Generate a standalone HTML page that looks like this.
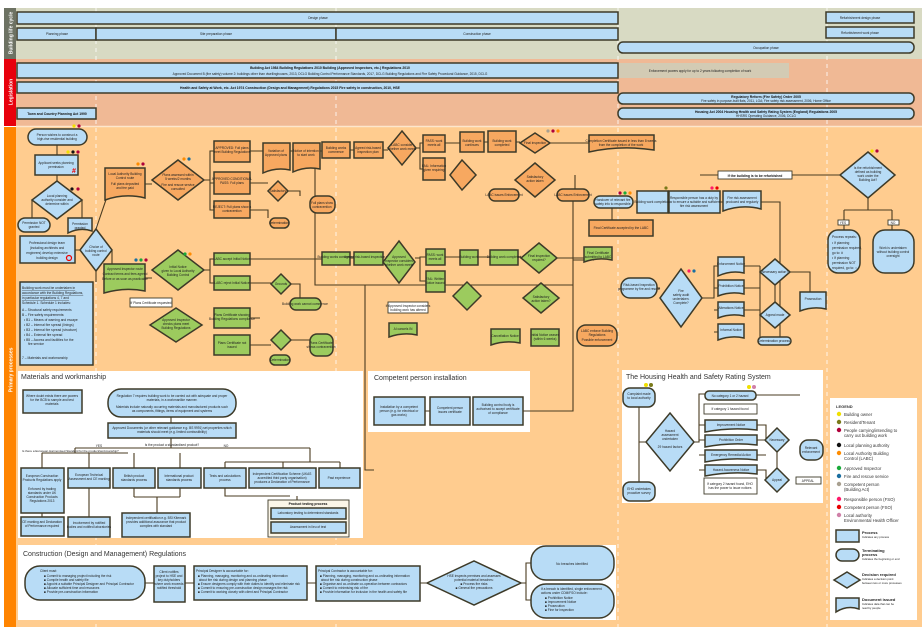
<!DOCTYPE html>
<html><head><meta charset="utf-8"><style>
html,body{margin:0;padding:0;background:#fff;}
svg{display:block;font-family:"Liberation Sans",sans-serif;}
.b{fill:#b8dcf6;stroke:#3d3a28;stroke-width:1.5}
.o{fill:#f7a860;stroke:#3d3a28;stroke-width:1.5}
.g{fill:#9ccb5e;stroke:#3d3a28;stroke-width:1.5}
.w{fill:#fff;stroke:#3d3a28;stroke-width:0.9}
.l{fill:none;stroke:#4a3b20;stroke-width:1.1}
.t{font-size:3.2px;fill:#222;text-anchor:middle}
.tb{font-size:3.4px;fill:#111;text-anchor:middle;font-weight:bold}
.h{font-size:7px;fill:#333}
.lg{font-size:4.3px;fill:#333}
</style></head><body>
<svg width="922" height="630" viewBox="0 0 922 630" xmlns="http://www.w3.org/2000/svg">
<rect x="4" y="8" width="12" height="51" fill="#6d7263"/>
<rect x="4" y="59" width="12" height="67" fill="#e8000c"/>
<rect x="4" y="127" width="12" height="500" fill="#ff8400"/>
<text transform="translate(12.5,33) rotate(-90)" font-size="5" fill="#fff" text-anchor="middle" font-weight="bold">Building life cycle</text>
<text transform="translate(12.5,92) rotate(-90)" font-size="5" fill="#fff" text-anchor="middle" font-weight="bold">Legislation</text>
<text transform="translate(12.5,370) rotate(-90)" font-size="5" fill="#fff" text-anchor="middle" font-weight="bold">Primary processes</text>
<rect x="16" y="8" width="906" height="51" fill="#d8dac3"/>
<rect x="16" y="59" width="906" height="67" fill="#f0b995"/>
<rect x="16" y="127" width="906" height="500" fill="#ffcc8f"/>
<line x1="16" y1="126.5" x2="922" y2="126.5" stroke="#fde6cc" stroke-width="1.5"/>
<g stroke="#fff" stroke-width="0.8" stroke-dasharray="4,4">
<line x1="96" y1="8" x2="96" y2="627"/><line x1="336" y1="8" x2="336" y2="627"/><line x1="618" y1="8" x2="618" y2="627"/><line x1="827" y1="8" x2="827" y2="627"/></g>
<rect class="b" x="17" y="12" width="601" height="12"/><text class="t" x="318" y="19">Design phase</text>
<rect class="b" x="17" y="28" width="79" height="12"/><text class="t" x="57" y="35">Planning phase</text>
<rect class="b" x="96" y="28" width="240" height="12"/><text class="t" x="216" y="35">Site preparation phase</text>
<rect class="b" x="336" y="28" width="282" height="12"/><text class="t" x="477" y="35">Construction phase</text>
<rect class="b" x="826" y="12" width="88" height="11"/><text class="t" x="860" y="19">Refurbishment design phase</text>
<rect class="b" x="826" y="27" width="88" height="11"/><text class="t" x="860" y="34">Refurbishment work phase</text>
<rect class="b" x="618" y="42" width="296" height="11" rx="5"/><text class="t" x="766" y="49">Occupation phase</text>
<rect class="b" x="17" y="63" width="601" height="15"/>
<text class="tb" x="330" y="69">Building Act 1984      Building Regulations 2010      Building (Approved Inspectors, etc.) Regulations 2010</text>
<text class="t" x="330" y="75">Approved Document B (fire safety) volume 2: buildings other than dwellinghouses, 2013, DCLG   Building Control Performance Standards, 2017, DCLG   Building Regulations and Fire Safety Procedural Guidance, 2015, DCLG</text>
<rect x="619" y="63" width="170" height="15" fill="#d3cbb4"/><text class="t" x="700" y="72">Enforcement powers apply for up to 2 years following completion of work</text>
<rect class="b" x="17" y="82" width="601" height="11"/>
<text class="tb" x="290" y="89">Health and Safety at Work, etc. Act 1974     Construction (Design and Management) Regulations 2015     Fire safety in construction, 2010, HSE</text>
<rect class="b" x="618" y="93" width="296" height="11" rx="5"/><text class="tb" x="766" y="98">Regulatory Reform (Fire Safety) Order 2005</text><text class="t" x="766" y="102">Fire safety in purpose-built flats, 2011, LGA; Fire safety risk assessment, 2006, Home Office</text>
<rect class="b" x="618" y="108" width="296" height="11" rx="5"/><text class="tb" x="766" y="113">Housing Act 2004    Housing Health and Safety Rating System (England) Regulations 2005</text><text class="t" x="766" y="117">HHSRS Operating Guidance, 2006, DCLG</text>
<rect class="b" x="17" y="108" width="79" height="11"/><text class="tb" x="57" y="115">Town and Country Planning Act 1990</text>

<g class="l">
<path d="M57 145V155M57 175V181M40 200H32V218M74 200H82V218M96 229V236M75 250H80M96 271V282M112 250H96M96 229L112 182H105M112 250V282H104"/>
<path d="M145 184H152M204 180H210V151H214M210 180V183H214M210 180V210H214M250 151H263M290 151H293M320 151H322M350 150H354M383 150H388M416 148H420V143H423M420 148V169H423M445 143H460M484 142H488M516 142H520M550 143H589M250 183H268M250 210H268V218M288 191H300V196"/>
<path d="M145 278H152M204 270H210V259H214M210 270V283H214M250 259H322M250 283H271M291 284H300V298M350 258H354M415 258H420V257H426M420 258V281H426M445 257H460M478 257H490M518 257H521M557 258H584M250 318H260M250 345H271M291 340H310"/>
<path d="M315 158V285H573M573 200V372M573 260H594M365 285V470H374M612 200V220"/>
<path d="M668 202H669M720 202H723M761 202H780V340M700 175H840M575 175V191M868 198V210M844 210H892M844 210V230M892 210V230"/>
<path d="M657 288H660M702 298H714V266H718M714 288H718M714 310H718M714 332H718M744 266H760M744 288H760M744 310H760M760 266V340M790 272H810V292M775 285V302"/>
</g>
<rect class="b" x="28" y="129" width="59" height="16" rx="8"/><text class="t" x="57" y="136">Person wishes to construct a</text><text class="t" x="57" y="140">high-rise residential building</text>
<rect class="b" x="35" y="155" width="43" height="20"/><text class="t" x="56" y="164">Applicant seeks planning</text><text class="t" x="56" y="168">permission</text><text x="72" y="173" font-size="7" fill="#e00" font-weight="bold">#</text>
<polygon class="b" points="57,181 82,200 57,219 32,200"/><text class="t" x="57" y="197">Local planning</text><text class="t" x="57" y="201">authority consider and</text><text class="t" x="57" y="205">determine within</text>
<rect class="b" x="18" y="218" width="32" height="14" rx="7"/><text class="t" x="34" y="224">Permission NOT</text><text class="t" x="34" y="228">granted</text>
<path class="b" d="M68 218H92V231Q80 227 68 233Z"/><text class="t" x="80" y="225">Permission</text><text class="t" x="80" y="229">granted</text>
<rect class="b" x="20" y="236" width="55" height="27"/><text class="t" x="47" y="244">Professional design team</text><text class="t" x="47" y="249">(including architects and</text><text class="t" x="47" y="254">engineers) develop extensive</text><text class="t" x="47" y="259">building design</text><circle cx="69" cy="258" r="2.5" fill="none" stroke="#e00" stroke-width="1.2"/>
<polygon class="b" points="96,229 112,250 96,271 80,250"/><text class="t" x="96" y="248">Choice of</text><text class="t" x="96" y="252">building control</text><text class="t" x="96" y="256">route</text>
<rect class="b" x="20" y="282" width="73" height="83"/>
<text font-size="3.3" fill="#222"><tspan x="22" y="289" text-decoration="underline">Building work must be undertaken in</tspan><tspan x="22" y="294" text-decoration="underline">accordance with the Building Regulations,</tspan><tspan x="22" y="299" text-decoration="underline">in particular regulations 4, 7 and</tspan><tspan x="22" y="304">Schedule 1. Schedule 1 includes:</tspan><tspan x="22" y="311">A – Structural safety requirements</tspan><tspan x="22" y="316">B – Fire safety requirements:</tspan><tspan x="24" y="321">• B1 – Means of warning and escape</tspan><tspan x="24" y="326">• B2 – Internal fire spread (linings)</tspan><tspan x="24" y="331">• B3 – Internal fire spread (structure)</tspan><tspan x="24" y="336">• B4 – External fire spread</tspan><tspan x="24" y="341">• B5 – Access and facilities for the</tspan><tspan x="28" y="345">fire service</tspan><tspan x="22" y="359">7 – Materials and workmanship</tspan></text>

<path class="o" d="M105 168H145V198Q125 193 105 200Z"/><text class="t" x="125" y="175">Local Authority Building</text><text class="t" x="125" y="179">Control route</text><text class="t" x="125" y="185">Full plans deposited</text><text class="t" x="125" y="189">and fee paid</text>
<polygon class="o" points="178,160 204,180 178,200 152,180"/><text class="t" x="178" y="176">Plans assessed within</text><text class="t" x="178" y="180">5 weeks/2 months</text><text class="t" x="178" y="186">Fire and rescue service</text><text class="t" x="178" y="190">consulted</text>
<rect class="o" x="214" y="141" width="36" height="21"/><text class="t" x="232" y="149">APPROVED: Full plans</text><text class="t" x="232" y="153">meet Building Regulations</text>
<rect class="o" x="214" y="172" width="36" height="22"/><text class="t" x="232" y="180">APPROVED CONDITIONAL</text><text class="t" x="232" y="184">PASS: Full plans</text>
<rect class="o" x="214" y="201" width="36" height="17"/><text class="t" x="232" y="208">REJECT: Full plans show a</text><text class="t" x="232" y="212">contravention</text>
<path class="o" d="M263 143H290V170Q276 167 263 173Z"/><text class="t" x="276" y="152">Variation of</text><text class="t" x="276" y="156">Approved plans</text>
<path class="o" d="M293 143H320V169Q306 166 293 172Z"/><text class="t" x="306" y="152">Notice of intention</text><text class="t" x="306" y="156">to start work</text>
<rect class="o" x="322" y="142" width="28" height="16"/><text class="t" x="336" y="149">Building works</text><text class="t" x="336" y="153">commence</text>
<rect class="o" x="354" y="142" width="29" height="16"/><text class="t" x="368" y="149">Agreed risk-based</text><text class="t" x="368" y="153">inspection plan</text>
<polygon class="o" points="402,131 416,148 402,165 388,148"/><text class="t" x="402" y="146">LABC consider</text><text class="t" x="402" y="150">whether work meets</text>
<polygon class="o" points="278,181 288,191 278,201 268,191"/><text class="t" x="278" y="192">Satisfactory</text>
<rect class="o" x="310" y="196" width="25" height="17" rx="7"/><text class="t" x="322" y="204">Full plans show</text><text class="t" x="322" y="208">contravention</text>
<rect class="o" x="270" y="218" width="19" height="10" rx="5"/><text class="t" x="279" y="224">Determination</text>
<rect class="o" x="423" y="135" width="22" height="17"/><text class="t" x="434" y="142">PASS: work</text><text class="t" x="434" y="146">meets all</text>
<rect class="o" x="423" y="158" width="22" height="22"/><text class="t" x="434" y="167">FAIL: Information</text><text class="t" x="434" y="171">given requiring</text>
<polygon class="o" points="450,175 462,160 476,175 462,190"/>
<rect class="o" x="460" y="132" width="24" height="20"/><text class="t" x="472" y="142">Building work</text><text class="t" x="472" y="146">continues</text>
<rect class="o" x="488" y="131" width="28" height="21"/><text class="t" x="502" y="142">Building work</text><text class="t" x="502" y="146">completed</text>
<polygon class="o" points="535,133 550,143 535,153 520,143"/><text class="t" x="535" y="144">Final inspection</text>
<path class="o" d="M589 135H654V150Q621 145 589 152Z"/><text class="t" x="621" y="142">Completion Certificate issued in less than 8 weeks</text><text class="t" x="621" y="146">from the completion of the work</text>
<polygon class="o" points="535,163 555,180 535,197 515,180"/><text class="t" x="535" y="178">Satisfactory</text><text class="t" x="535" y="182">action taken</text>
<rect class="o" x="489" y="189" width="30" height="12" rx="6"/><text class="t" x="504" y="196">LABC issues Enforcement</text>
<rect class="o" x="557" y="189" width="32" height="12" rx="6"/><text class="t" x="573" y="196">LABC issues Enforcement</text>
<rect class="b" x="594" y="196" width="39" height="12" rx="6"/><text class="t" x="613" y="201">Handover of relevant fire</text><text class="t" x="613" y="205">safety info to responsible</text>
<rect class="o" x="589" y="220" width="64" height="16"/><text class="t" x="621" y="229">Final Certificate accepted by the LABC</text>

<rect class="b" x="637" y="191" width="31" height="22"/><text class="t" x="652" y="203">Building work completion</text>
<rect class="b" x="669" y="191" width="51" height="22"/><text class="t" x="694" y="199">Responsible person has a duty by</text><text class="t" x="694" y="203">law to ensure a suitable and sufficient</text><text class="t" x="694" y="207">fire risk assessment</text>
<path class="b" d="M723 191H761V209Q742 204 723 211Z"/><text class="t" x="742" y="199">Fire risk assessment</text><text class="t" x="742" y="203">produced and regularly</text>
<rect class="w" x="718" y="171" width="74" height="8"/><text class="tb" x="755" y="177" font-size="4">If the building is to be refurbished</text>
<polygon class="b" points="868,152 895,175 868,198 840,175"/>
<text class="t" x="868" y="169">Is the refurbishment</text><text class="t" x="868" y="173">defined as building</text><text class="t" x="868" y="177">work under the</text><text class="t" x="868" y="181">Building Act?</text>
<rect class="b" x="828" y="230" width="32" height="43" rx="10"/><text font-size="3.3" fill="#222"><tspan x="832" y="238">Process repeats:</tspan><tspan x="832" y="244">• If planning</tspan><tspan x="832" y="249">permission required,</tspan><tspan x="832" y="254">go to: #</tspan><tspan x="832" y="259">• If planning</tspan><tspan x="832" y="264">permission NOT</tspan><tspan x="832" y="269">required, go to: ○</tspan></text>
<rect class="b" x="873" y="230" width="41" height="43" rx="12"/><text class="t" x="893" y="249">Work is undertaken</text><text class="t" x="893" y="253">without building control</text><text class="t" x="893" y="257">oversight</text>
<rect class="w" x="838" y="220" width="11" height="5"/><text class="t" x="843" y="224">YES</text><rect class="w" x="888" y="220" width="11" height="5"/><text class="t" x="893" y="224">NO</text>

<path class="g" d="M104 264H145V291Q125 287 104 293Z"/><text class="t" x="125" y="270">Approved Inspector route</text><text class="t" x="125" y="275">Contract terms and fees agreed</text><text class="t" x="125" y="280">Before or as soon as practicable</text>
<polygon class="g" points="178,250 204,270 178,290 152,270"/><text class="t" x="178" y="268">Initial Notice</text><text class="t" x="178" y="272">given to Local Authority</text><text class="t" x="178" y="276">Building Control</text>
<rect class="g" x="214" y="253" width="36" height="12"/><text class="t" x="232" y="260">LABC accept Initial Notice</text>
<rect class="g" x="214" y="276" width="36" height="14"/><text class="t" x="232" y="284">LABC reject Initial Notice</text>
<polygon class="g" points="281,274 291,284 281,294 271,284"/><text class="t" x="281" y="285">Grounds</text>
<rect class="g" x="290" y="298" width="31" height="12" rx="6"/><text class="t" x="305" y="305">Building work cannot commence</text>
<rect class="w" x="130" y="298" width="42" height="9"/><text class="t" x="151" y="304">If Plans Certificate requested</text>
<polygon class="g" points="176,308 202,325 176,342 150,325"/><text class="t" x="176" y="321">Approved Inspector</text><text class="t" x="176" y="325">checks plans meet</text><text class="t" x="176" y="329">Building Regulations</text>
<rect class="g" x="214" y="308" width="36" height="20"/><text class="t" x="232" y="316">Plans Certificate showing</text><text class="t" x="232" y="320">Building Regulations compliance</text>
<rect class="g" x="214" y="335" width="36" height="20"/><text class="t" x="232" y="344">Plans Certificate not</text><text class="t" x="232" y="348">issued</text>
<polygon class="g" points="281,330 291,340 281,350 271,340"/>
<rect class="g" x="310" y="334" width="23" height="22" rx="7"/><text class="t" x="321" y="344">Plans Certificate</text><text class="t" x="321" y="348">shows contravention</text>
<rect class="g" x="270" y="355" width="20" height="10" rx="5"/><text class="t" x="280" y="361">Determination</text>
<rect class="g" x="322" y="252" width="28" height="13"/><text class="t" x="336" y="258">Building works commence</text>
<rect class="g" x="354" y="252" width="29" height="13"/><text class="t" x="368" y="258">Agreed risk-based inspection plan</text>
<polygon class="g" points="399,241 415,262 399,283 383,262"/><text class="t" x="399" y="258">Approved</text><text class="t" x="399" y="262">Inspector considers</text><text class="t" x="399" y="266">whether work meets</text>
<rect class="g" x="426" y="249" width="19" height="16"/><text class="t" x="435" y="256">PASS: work</text><text class="t" x="435" y="260">meets all</text>
<rect class="g" x="426" y="271" width="19" height="21"/><text class="t" x="435" y="280">FAIL: Written</text><text class="t" x="435" y="284">Notice issued</text>
<rect class="w" x="388" y="302" width="40" height="11"/><text class="t" x="408" y="307">If Approved Inspector considers</text><text class="t" x="408" y="311">building work has altered</text>
<path class="g" d="M389 323H417V335Q403 332 389 337Z"/><text class="t" x="403" y="330">AI cancels IN</text>
<polygon class="g" points="453,296 467,282 481,296 467,310"/>
<rect class="g" x="460" y="250" width="18" height="15"/><text class="t" x="469" y="258">Building work</text>
<rect class="g" x="490" y="250" width="28" height="15"/><text class="t" x="504" y="258">Building work completed</text>
<polygon class="g" points="539,243 557,258 539,273 521,258"/><text class="t" x="539" y="257">Final inspection</text><text class="t" x="539" y="261">required?</text>
<path class="g" d="M584 247H612V260Q598 257 584 262Z"/><text class="t" x="598" y="254">Final Certificate</text><text class="t" x="598" y="258">submitted to LABC</text>
<polygon class="g" points="541,283 559,298 541,313 523,298"/><text class="t" x="541" y="298">Satisfactory</text><text class="t" x="541" y="302">action taken?</text>
<path class="g" d="M491 329H520V343Q505 340 491 345Z"/><text class="t" x="505" y="337">Cancellation Notice</text>
<rect class="g" x="531" y="329" width="28" height="17"/><text class="t" x="545" y="336">Initial Notice ceases</text><text class="t" x="545" y="340">(within 6 weeks)</text>
<rect class="o" x="577" y="325" width="40" height="21" rx="9"/><text class="t" x="597" y="332">LABC enforce Building</text><text class="t" x="597" y="336">Regulations</text><text class="t" x="597" y="341">Possible enforcement</text>

<rect class="b" x="621" y="278" width="36" height="20" rx="9"/><text class="t" x="639" y="286">Risk-based inspection</text><text class="t" x="639" y="290">programme by fire and rescue</text>
<polygon class="b" points="681,269 702,298 681,327 660,298"/><text class="t" x="681" y="292">Fire</text><text class="t" x="681" y="296">safety audit</text><text class="t" x="681" y="300">undertaken.</text><text class="t" x="681" y="304">Complete?</text>
<path class="b" d="M718 257H744V273Q731 270 718 276Z"/><text class="t" x="731" y="265">Enforcement Notice</text>
<path class="b" d="M718 280H744V294Q731 291 718 296Z"/><text class="t" x="731" y="287">Prohibition Notice</text>
<path class="b" d="M718 302H744V316Q731 313 718 318Z"/><text class="t" x="731" y="309">Alterations Notice</text>
<path class="b" d="M718 324H744V338Q731 335 718 340Z"/><text class="t" x="731" y="331">Informal Notice</text>
<polygon class="b" points="775,259 790,272 775,285 760,272"/><text class="t" x="775" y="273">Necessary action?</text>
<polygon class="b" points="775,302 790,315 775,328 760,315"/><text class="t" x="775" y="316">Appeal made</text>
<rect class="b" x="758" y="337" width="33" height="8" rx="4"/><text class="t" x="774" y="342">Determination process</text>
<path class="b" d="M800 292H826V309Q813 306 800 311Z"/><text class="t" x="813" y="300">Prosecution</text>

<rect x="18" y="371" width="345" height="167" fill="#fff"/>
<text class="h" x="21" y="379">Materials and workmanship</text>
<g class="l"><path d="M171 417V423M171 438V448M75 448H310M75 448V453M310 448V462M42 453H128M42 453V468M89 453V468M134 453V468M180 453V468M225 462H340M225 462V468M283 462V468M340 462V468M42 513V517M89 488V517M134 488V497M180 488V497M134 497H180M157 497V513M225 488V496H290M297 496V500"/></g>
<rect class="b" x="23" y="390" width="59" height="23"/><text class="t" x="52" y="397">Where doubt exists there are powers</text><text class="t" x="52" y="401">for the BCB to sample and test</text><text class="t" x="52" y="405">materials</text>
<rect class="b" x="108" y="389" width="128" height="28" rx="13"/><text class="t" x="172" y="397">Regulation 7 requires building work to be carried out with adequate and proper</text><text class="t" x="172" y="401">materials, in a workmanlike manner.</text><text class="t" x="172" y="408">Materials include naturally occurring materials and manufactured products such</text><text class="t" x="172" y="412">as components, fittings, items of equipment and systems</text>
<rect class="b" x="108" y="423" width="128" height="15"/><text class="t" x="172" y="429">Approved Documents (or other relevant guidance e.g. BS 9991) set properties which</text><text class="t" x="172" y="433">materials should meet (e.g. limited combustibility)</text>
<text class="t" x="172" y="446">Is the product a standardised product?</text>
<text font-size="3" fill="#222" x="22" y="452">Is there a European Harmonised Standard for the product/workmanship?</text>
<text class="t" x="99" y="447">YES</text><text class="t" x="226" y="447">NO</text>
<rect class="b" x="21" y="468" width="43" height="45"/><text class="t" x="42" y="477">European Construction</text><text class="t" x="42" y="481">Products Regulations apply</text><text class="t" x="42" y="490">Enforced by trading</text><text class="t" x="42" y="494">standards under UK</text><text class="t" x="42" y="498">Construction Products</text><text class="t" x="42" y="502">Regulations 2013</text>
<rect class="b" x="68" y="468" width="42" height="20"/><text class="t" x="89" y="476">European Technical</text><text class="t" x="89" y="480">Assessment and CE marking</text>
<rect class="b" x="113" y="468" width="42" height="20"/><text class="t" x="134" y="477">British product</text><text class="t" x="134" y="481">standards process</text>
<rect class="b" x="158" y="468" width="43" height="20"/><text class="t" x="179" y="477">International product</text><text class="t" x="179" y="481">standards process</text>
<rect class="b" x="204" y="468" width="42" height="20"/><text class="t" x="225" y="477">Tests and calculations</text><text class="t" x="225" y="481">process</text>
<rect class="b" x="249" y="468" width="67" height="20"/><text class="t" x="282" y="475">Independent Certification Scheme (UKAS</text><text class="t" x="282" y="479">accredited third party organisation)</text><text class="t" x="282" y="483">produces a Declaration of Performance</text>
<rect class="b" x="319" y="468" width="41" height="20"/><text class="t" x="339" y="479">Past experience</text>
<rect class="b" x="21" y="517" width="43" height="19"/><text class="t" x="42" y="523">CE marking and Declaration</text><text class="t" x="42" y="527">of Performance required</text>
<rect class="b" x="68" y="517" width="42" height="20"/><text class="t" x="89" y="524">Involvement by notified</text><text class="t" x="89" y="528">bodies and notified laboratories</text>
<rect class="b" x="122" y="513" width="68" height="24"/><text class="t" x="156" y="519">Independent certification e.g. BSI Kitemark</text><text class="t" x="156" y="523">provides additional assurance that product</text><text class="t" x="156" y="527">complies with standard</text>
<rect x="268" y="500" width="81" height="37" fill="#fbf6e8" stroke="#3d3a28" stroke-width="0.9"/><text class="tb" x="308" y="505">Product testing process</text>
<rect class="b" x="271" y="508" width="75" height="11"/><text class="t" x="308" y="514">Laboratory testing to determined standards</text>
<rect class="b" x="271" y="522" width="75" height="11"/><text class="t" x="308" y="528">Assessment in lieu of test</text>

<rect x="368" y="371" width="162" height="61" fill="#fff"/>
<text class="h" x="374" y="380">Competent person installation</text>
<rect class="b" x="374" y="397" width="51" height="28"/><text class="t" x="399" y="408">Installation by a competent</text><text class="t" x="399" y="412">person (e.g. for electrical or</text><text class="t" x="399" y="416">gas works)</text>
<rect class="b" x="430" y="397" width="40" height="28"/><text class="t" x="450" y="409">Competent person</text><text class="t" x="450" y="413">issues certificate</text>
<rect class="b" x="473" y="397" width="50" height="28"/><text class="t" x="498" y="406">Building control body is</text><text class="t" x="498" y="410">authorised to accept certificate</text><text class="t" x="498" y="414">of compliance</text>
<g class="l"><path d="M523 411H573V372M425 411H430"/></g>

<rect x="622" y="370" width="201" height="133" fill="#fff"/>
<text class="h" x="626" y="379">The Housing Health and Safety Rating System</text>
<g class="l"><path d="M639 407V482M639 442H646M694 442H699V394H705M699 425H705M699 440H705M699 455H705M699 470H705M756 395H800M757 425H766V442M757 440H765M757 455H766M757 470H766V480M777 452V468"/></g>
<rect class="b" x="623" y="388" width="32" height="19" rx="7"/><text class="t" x="639" y="395">Complaint made</text><text class="t" x="639" y="399">to local authority</text>
<polygon class="b" points="670,413 694,442 670,471 646,442"/><text class="t" x="670" y="432">Hazard</text><text class="t" x="670" y="436">assessment</text><text class="t" x="670" y="440">undertaken</text><text class="t" x="670" y="448">29 hazard factors</text>
<rect class="b" x="705" y="391" width="51" height="9" rx="4"/><text class="t" x="730" y="397">No category 1 or 2 hazard</text>
<rect class="w" x="704" y="404" width="53" height="10"/><text class="t" x="730" y="410">If category 1 hazard found</text>
<path class="b" d="M705 420H757V430Q731 427 705 432Z"/><text class="t" x="731" y="426">Improvement Notice</text>
<path class="b" d="M705 435H757V445Q731 442 705 447Z"/><text class="t" x="731" y="441">Prohibition Order</text>
<path class="b" d="M705 450H757V460Q731 457 705 462Z"/><text class="t" x="731" y="456">Emergency Remedial Action</text>
<path class="b" d="M705 465H757V474Q731 471 705 476Z"/><text class="t" x="731" y="471">Hazard Awareness Notice</text>
<rect class="w" x="704" y="478" width="53" height="16"/><text class="t" x="730" y="485">If category 2 hazard found, EHO</text><text class="t" x="730" y="489">has the power to issue notices</text>
<rect class="b" x="623" y="482" width="32" height="19" rx="7"/><text class="t" x="639" y="490">EHO undertakes</text><text class="t" x="639" y="494">proactive survey</text>
<polygon class="b" points="777,428 789,440 777,452 765,440"/><text class="t" x="777" y="441">Necessary</text>
<polygon class="b" points="777,468 789,480 777,492 765,480"/><text class="t" x="777" y="481">Appeal</text>
<rect class="b" x="800" y="440" width="23" height="20" rx="8"/><text class="t" x="811" y="449">Relevant</text><text class="t" x="811" y="453">enforcement</text>
<rect class="w" x="796" y="477" width="25" height="7"/><text class="t" x="808" y="482">APPEAL</text>

<rect x="830" y="398" width="87" height="222" fill="#fff"/>
<g class="lg"><text x="836" y="408" font-weight="bold" font-size="4">LEGEND</text>
<circle cx="839" cy="414" r="2.2" fill="#f0e000"/><text x="844" y="416">Building owner</text>
<circle cx="839" cy="422" r="2.2" fill="#7a7a1a"/><text x="844" y="424">Resident/Tenant</text>
<circle cx="839" cy="430" r="2.2" fill="#b0003a"/><text x="844" y="432">People carrying/intending to</text><text x="844" y="437">carry out building work</text>
<circle cx="839" cy="445" r="2.2" fill="#111"/><text x="844" y="447">Local planning authority</text>
<circle cx="839" cy="453" r="2.2" fill="#ff8c00"/><text x="844" y="455">Local Authority Building</text><text x="844" y="460">Control (LABC)</text>
<circle cx="839" cy="468" r="2.2" fill="#1aaa3a"/><text x="844" y="470">Approved Inspector</text>
<circle cx="839" cy="476" r="2.2" fill="#1a6ea0"/><text x="844" y="478">Fire and rescue service</text>
<circle cx="839" cy="484" r="2.2" fill="#a8a090"/><text x="844" y="486">Competent person</text><text x="844" y="491">(Building Act)</text>
<circle cx="839" cy="499" r="2.2" fill="#ff1a6a"/><text x="844" y="501">Responsible person (FSO)</text>
<circle cx="839" cy="507" r="2.2" fill="#e80000"/><text x="844" y="509">Competent person (FSO)</text>
<circle cx="839" cy="515" r="2.2" fill="#d080a8"/><text x="844" y="517">Local authority</text><text x="844" y="522">Environmental Health Officer</text></g>
<rect class="b" x="836" y="530" width="23" height="12"/><text x="862" y="534" font-size="4" font-weight="bold" fill="#222">Process</text><text x="862" y="538" font-size="2.8" fill="#222">Indicates any process</text>
<rect class="b" x="836" y="549" width="23" height="12" rx="6"/><text x="862" y="552" font-size="4" font-weight="bold" fill="#222">Terminating</text><text x="862" y="556" font-size="4" font-weight="bold" fill="#222">process</text><text x="862" y="560" font-size="2.8" fill="#222">Indicates the beginning or end</text>
<polygon class="b" points="847,572 860,580 847,588 834,580"/><text x="862" y="576" font-size="4" font-weight="bold" fill="#222">Decision required</text><text x="862" y="580" font-size="2.8" fill="#222">Indicates a decision point</text><text x="862" y="584" font-size="2.8" fill="#222">between two or more processes</text>
<path class="b" d="M836 598H859V609Q847 605 836 612Z"/><text x="862" y="601" font-size="4" font-weight="bold" fill="#222">Document issued</text><text x="862" y="605" font-size="2.8" fill="#222">Indicates data that can be</text><text x="862" y="609" font-size="2.8" fill="#222">read by people</text>

<rect x="18" y="545" width="598" height="75" fill="#fff"/>
<text class="h" x="23" y="556">Construction (Design and Management) Regulations</text>
<g class="l"><path d="M145 583H154M185 583H194M307 583H316M420 583H427M520 583H526V563H531M526 583V600H531"/></g>
<rect class="b" x="25" y="566" width="120" height="34" rx="15"/><text font-size="3.2" fill="#222"><tspan x="40" y="572">Client must:</tspan><tspan x="44" y="577">■ Commit to managing project including the risk</tspan><tspan x="44" y="581">■ Compile health and safety file</tspan><tspan x="44" y="585">■ Appoint a suitable Principal Designer and Principal Contractor</tspan><tspan x="44" y="589">■ Allocate sufficient time and resources</tspan><tspan x="44" y="593">■ Provide pre-construction information</tspan></text>
<rect class="b" x="154" y="566" width="31" height="36"/><text class="t" x="169" y="573">Client notifies</text><text class="t" x="169" y="577">project to HSE and</text><text class="t" x="169" y="581">key dutyholders</text><text class="t" x="169" y="585">where work exceeds</text><text class="t" x="169" y="589">notified threshold</text>
<rect class="b" x="194" y="566" width="113" height="34"/><text font-size="3.2" fill="#222"><tspan x="196" y="572">Principal Designer is accountable for:</tspan><tspan x="198" y="577">■ Planning, managing, monitoring and co-ordinating information</tspan><tspan x="198" y="581">   about fire risk during design and planning phase</tspan><tspan x="198" y="585">■ Ensure designers comply with their duties to identify and eliminate risk</tspan><tspan x="198" y="589">■ Commit to ensuring pre-construction design manages the risk</tspan><tspan x="198" y="593">■ Commit to working closely with client and Principal Contractor</tspan></text>
<rect class="b" x="316" y="566" width="104" height="35"/><text font-size="3.2" fill="#222"><tspan x="318" y="572">Principal Contractor is accountable for:</tspan><tspan x="320" y="577">■ Planning, managing, monitoring and co-ordinating information</tspan><tspan x="320" y="581">   about fire risk during construction phase</tspan><tspan x="320" y="585">■ Organise and co-ordinate co-operation between contractors</tspan><tspan x="320" y="589">■ Commit to minimising risk of fire</tspan><tspan x="320" y="593">■ Provide information for inclusion in the health and safety file</tspan></text>
<polygon class="b" points="427,583 474,561 521,583 474,605"/><text class="t" x="474" y="577">HSE inspects premises and assesses</text><text class="t" x="474" y="581">potential material breaches:</text><text class="t" x="474" y="585">■ Process fire risks</text><text class="t" x="474" y="589">■ General fire precautions</text>
<rect class="b" x="531" y="546" width="83" height="34" rx="15"/><text class="t" x="572" y="565">No breaches identified</text>
<rect class="b" x="531" y="584" width="83" height="34" rx="15"/><text font-size="3.2" fill="#222"><tspan x="541" y="590">If a breach is identified, single enforcement</tspan><tspan x="541" y="594">actions under CDM/FSO include:</tspan><tspan x="545" y="599">■ Prohibition Notice</tspan><tspan x="545" y="603">■ Improvement Notice</tspan><tspan x="545" y="607">■ Prosecution</tspan><tspan x="545" y="611">■ Fine for inspection</tspan></text>

<g>
<circle cx="74" cy="126" r="1.6" fill="#f0e000"/><circle cx="79" cy="126" r="1.6" fill="#b0003a"/>
<circle cx="68" cy="152" r="1.6" fill="#f0e000"/><circle cx="73" cy="152" r="1.6" fill="#111"/><circle cx="78" cy="152" r="1.6" fill="#b0003a"/>
<circle cx="72" cy="189" r="1.6" fill="#111"/><circle cx="78" cy="189" r="1.6" fill="#b0003a"/>
<circle cx="138" cy="164" r="1.6" fill="#ff8c00"/><circle cx="143" cy="164" r="1.6" fill="#b0003a"/>
<circle cx="184" cy="159" r="1.6" fill="#ff8c00"/><circle cx="189" cy="159" r="1.6" fill="#1a6ea0"/>
<circle cx="136" cy="260" r="1.6" fill="#1a6ea0"/><circle cx="141" cy="260" r="1.6" fill="#1aaa3a"/><circle cx="146" cy="260" r="1.6" fill="#b0003a"/>
<circle cx="185" cy="254" r="1.6" fill="#1aaa3a"/><circle cx="190" cy="254" r="1.6" fill="#ff8c00"/>
<circle cx="548" cy="131" r="1.6" fill="#a8a090"/><circle cx="553" cy="131" r="1.6" fill="#b0003a"/><circle cx="558" cy="131" r="1.6" fill="#ff8c00"/>
<circle cx="620" cy="193" r="1.6" fill="#b0003a"/><circle cx="625" cy="193" r="1.6" fill="#1aaa3a"/><circle cx="630" cy="193" r="1.6" fill="#ff8c00"/>
<circle cx="666" cy="188" r="1.6" fill="#7a7a1a"/><circle cx="712" cy="188" r="1.6" fill="#ff1a6a"/><circle cx="717" cy="188" r="1.6" fill="#e80000"/>
<circle cx="872" cy="151" r="1.6" fill="#f0e000"/><circle cx="877" cy="151" r="1.6" fill="#b0003a"/>
<circle cx="689" cy="271" r="1.6" fill="#ff1a6a"/><circle cx="694" cy="271" r="1.6" fill="#1a6ea0"/>
<circle cx="646" cy="385" r="2" fill="#f0e000"/><circle cx="651" cy="385" r="2" fill="#7a7a1a"/>
<circle cx="749" cy="387" r="2" fill="#f0e000"/><circle cx="754" cy="387" r="2" fill="#d080a8"/>
</g>
</svg>
</body></html>
